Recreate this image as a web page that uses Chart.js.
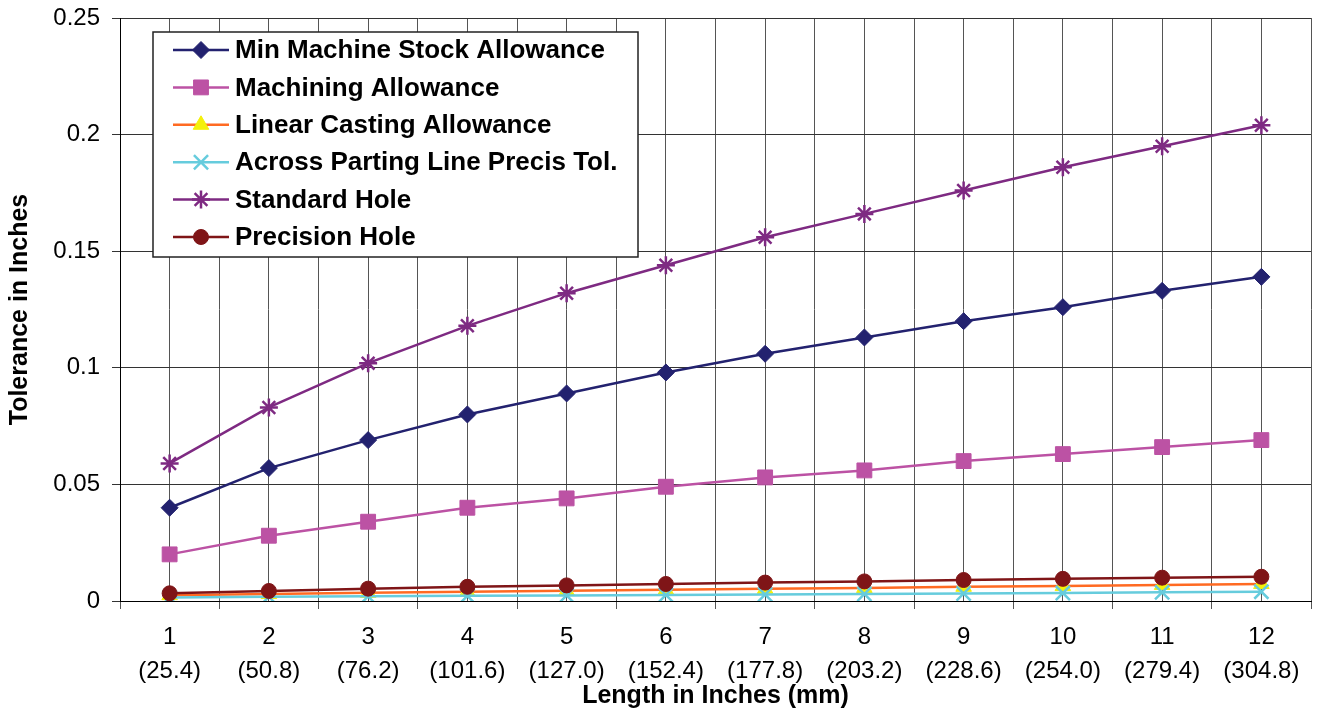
<!DOCTYPE html>
<html>
<head>
<meta charset="utf-8">
<script src="https://cdn.jsdelivr.net/npm/chart.js@4.4.1/dist/chart.umd.min.js"></script>
<style>
    html, body { margin: 0; padding: 0; background: #fff; }
</style>
</head>
<body>
<canvas id="toleranceChart" width="1317" height="709"></canvas>
<script>
// Категории по оси X
const lengthInches = ['1', '2', '3', '4', '5', '6', '7', '8', '9', '10', '11', '12'];
const lengthMm = ['(25.4)', '(50.8)', '(76.2)', '(101.6)', '(127.0)', '(152.4)',
                  '(177.8)', '(203.2)', '(228.6)', '(254.0)', '(279.4)', '(304.8)'];

// Серии
const minMachineStock = [0.040, 0.057, 0.069, 0.080, 0.089, 0.098, 0.106, 0.113, 0.120, 0.126, 0.133, 0.139];
const machiningAllowance = [0.020, 0.028, 0.034, 0.040, 0.044, 0.049, 0.053, 0.056, 0.060, 0.063, 0.066, 0.069];
const linearCasting = [0.0025, 0.0030, 0.0035, 0.0040, 0.0044, 0.0048, 0.0052, 0.0056, 0.0061, 0.0064, 0.0069, 0.0073];
const acrossPartingLine = [0.0015, 0.0018, 0.0020, 0.0022, 0.0024, 0.0026, 0.0028, 0.0030, 0.0032, 0.0034, 0.0037, 0.0040];
const standardHole = [0.059, 0.083, 0.102, 0.118, 0.132, 0.144, 0.156, 0.166, 0.176, 0.186, 0.195, 0.204];
const precisionHole = [0.0033, 0.0043, 0.0053, 0.0061, 0.0067, 0.0073, 0.0079, 0.0084, 0.0090, 0.0095, 0.0100, 0.0104];

// Подписи оси Y
const yTickLabels = ['0', '0.05', '0.1', '0.15', '0.2', '0.25'];

const FONT = "'Liberation Sans', Arial, sans-serif";

// Легенда внутри области графика, как в Excel
const insideLegend = {
    id: 'insideLegend',
    afterDraw(chart) {
        const ctx = chart.ctx;
        const box = { left: 153, top: 32, right: 638, bottom: 257 };
        ctx.save();
        ctx.fillStyle = '#fff';
        ctx.fillRect(box.left, box.top, box.right - box.left, box.bottom - box.top);
        ctx.strokeStyle = '#222';
        ctx.lineWidth = 1.5;
        ctx.strokeRect(box.left, box.top, box.right - box.left, box.bottom - box.top);

        ctx.font = 'bold 26px ' + FONT;
        ctx.textBaseline = 'middle';
        ctx.textAlign = 'left';

        chart.data.datasets.forEach((ds, i) => {
            const y = box.top + 18 + i * 37.4;
            ctx.strokeStyle = ds.borderColor;
            ctx.lineWidth = ds.borderWidth;
            ctx.beginPath();
            ctx.moveTo(box.left + 20, y);
            ctx.lineTo(box.left + 76, y);
            ctx.stroke();

            ctx.fillStyle = ds.pointBackgroundColor;
            ctx.strokeStyle = ds.pointBorderColor;
            ctx.lineWidth = ds.pointBorderWidth;
            Chart.helpers.drawPoint(ctx, {
                pointStyle: ds.pointStyle,
                radius: ds.pointRadius,
                rotation: 0,
                borderWidth: ds.pointBorderWidth
            }, box.left + 48, y);

            ctx.fillStyle = '#000';
            ctx.fillText(ds.label, box.left + 82, y + 1);
        });
        ctx.restore();
    }
};

function initToleranceChart() {
    const ctx = document.getElementById('toleranceChart').getContext('2d');

    new Chart(ctx, {
        type: 'line',
        data: {
            labels: lengthInches.map((v, i) => [v, lengthMm[i]]),
            datasets: [{
                label: 'Min Machine Stock Allowance',
                data: minMachineStock,
                borderColor: '#23226F',
                borderWidth: 2.5,
                pointStyle: 'rectRot',
                pointRadius: 8.5,
                pointBackgroundColor: '#23226F',
                pointBorderColor: '#23226F',
                pointBorderWidth: 1,
                order: 5
            }, {
                label: 'Machining Allowance',
                data: machiningAllowance,
                borderColor: '#BC52A4',
                borderWidth: 2.5,
                pointStyle: 'rect',
                pointRadius: 10.5,
                pointBackgroundColor: '#BC52A4',
                pointBorderColor: '#BC52A4',
                pointBorderWidth: 1,
                order: 4
            }, {
                label: 'Linear Casting Allowance',
                data: linearCasting,
                borderColor: '#FF6A22',
                borderWidth: 2.5,
                pointStyle: 'triangle',
                pointRadius: 9,
                pointBackgroundColor: '#F4F00A',
                pointBorderColor: '#F4F00A',
                pointBorderWidth: 1,
                order: 3
            }, {
                label: 'Across Parting Line Precis Tol.',
                data: acrossPartingLine,
                borderColor: '#66CCDD',
                borderWidth: 2.5,
                pointStyle: 'crossRot',
                pointRadius: 10,
                pointBackgroundColor: '#66CCDD',
                pointBorderColor: '#66CCDD',
                pointBorderWidth: 2.5,
                order: 2
            }, {
                label: 'Standard Hole',
                data: standardHole,
                borderColor: '#7E2A82',
                borderWidth: 2.5,
                pointStyle: 'star',
                pointRadius: 9,
                pointBackgroundColor: '#7E2A82',
                pointBorderColor: '#7E2A82',
                pointBorderWidth: 2.5,
                order: 1
            }, {
                label: 'Precision Hole',
                data: precisionHole,
                borderColor: '#7F1517',
                borderWidth: 2.5,
                pointStyle: 'circle',
                pointRadius: 7.5,
                pointBackgroundColor: '#7F1517',
                pointBorderColor: '#7F1517',
                pointBorderWidth: 1,
                order: 0
            }]
        },
        options: {
            responsive: false,
            animation: false,
            layout: {
                autoPadding: false,
                padding: { top: 18, right: 6, left: 0, bottom: 0 }
            },
            plugins: {
                legend: { display: false },
                tooltip: { enabled: false }
            },
            scales: {
                x: {
                    type: 'category',
                    offset: true,
                    grid: {
                        offset: true,
                        color: '#555',
                        lineWidth: 1,
                        tickLength: 8
                    },
                    border: { color: '#000', width: 1 },
                    ticks: {
                        color: '#000',
                        padding: 12,
                        maxRotation: 0,
                        autoSkip: false,
                        font: { family: FONT, size: 24, lineHeight: 1.4 }
                    },
                    title: {
                        display: true,
                        text: 'Length in Inches (mm)',
                        color: '#000',
                        padding: { top: 0, bottom: -2 },
                        font: { family: FONT, size: 25, weight: 'bold' }
                    },
                    afterFit(scale) {
                        scale.height = 108;
                        scale.paddingLeft = 0;
                        scale.paddingRight = 0;
                    }
                },
                xCenters: {
                    type: 'category',
                    position: 'bottom',
                    offset: true,
                    grid: {
                        offset: false,
                        color: '#555',
                        lineWidth: 1,
                        drawTicks: false
                    },
                    border: { display: false },
                    ticks: { display: false },
                    afterFit(scale) {
                        scale.height = 0;
                        scale.paddingLeft = 0;
                        scale.paddingRight = 0;
                    }
                },
                y: {
                    min: 0,
                    max: 0.25,
                    grid: {
                        color: '#333',
                        lineWidth: 1,
                        tickLength: 8
                    },
                    border: { color: '#000', width: 1 },
                    ticks: {
                        stepSize: 0.05,
                        color: '#000',
                        padding: 12,
                        font: { family: FONT, size: 24 },
                        callback: (value, index) => yTickLabels[index]
                    },
                    title: {
                        display: true,
                        text: 'Tolerance in Inches',
                        color: '#000',
                        padding: { top: 5, bottom: 0 },
                        font: { family: FONT, size: 25, weight: 'bold' }
                    },
                    afterFit(scale) {
                        scale.width = 120;
                        scale.paddingTop = 0;
                        scale.paddingBottom = 0;
                    }
                }
            }
        },
        plugins: [insideLegend]
    });
}

document.addEventListener('DOMContentLoaded', initToleranceChart);
</script>
</body>
</html>
